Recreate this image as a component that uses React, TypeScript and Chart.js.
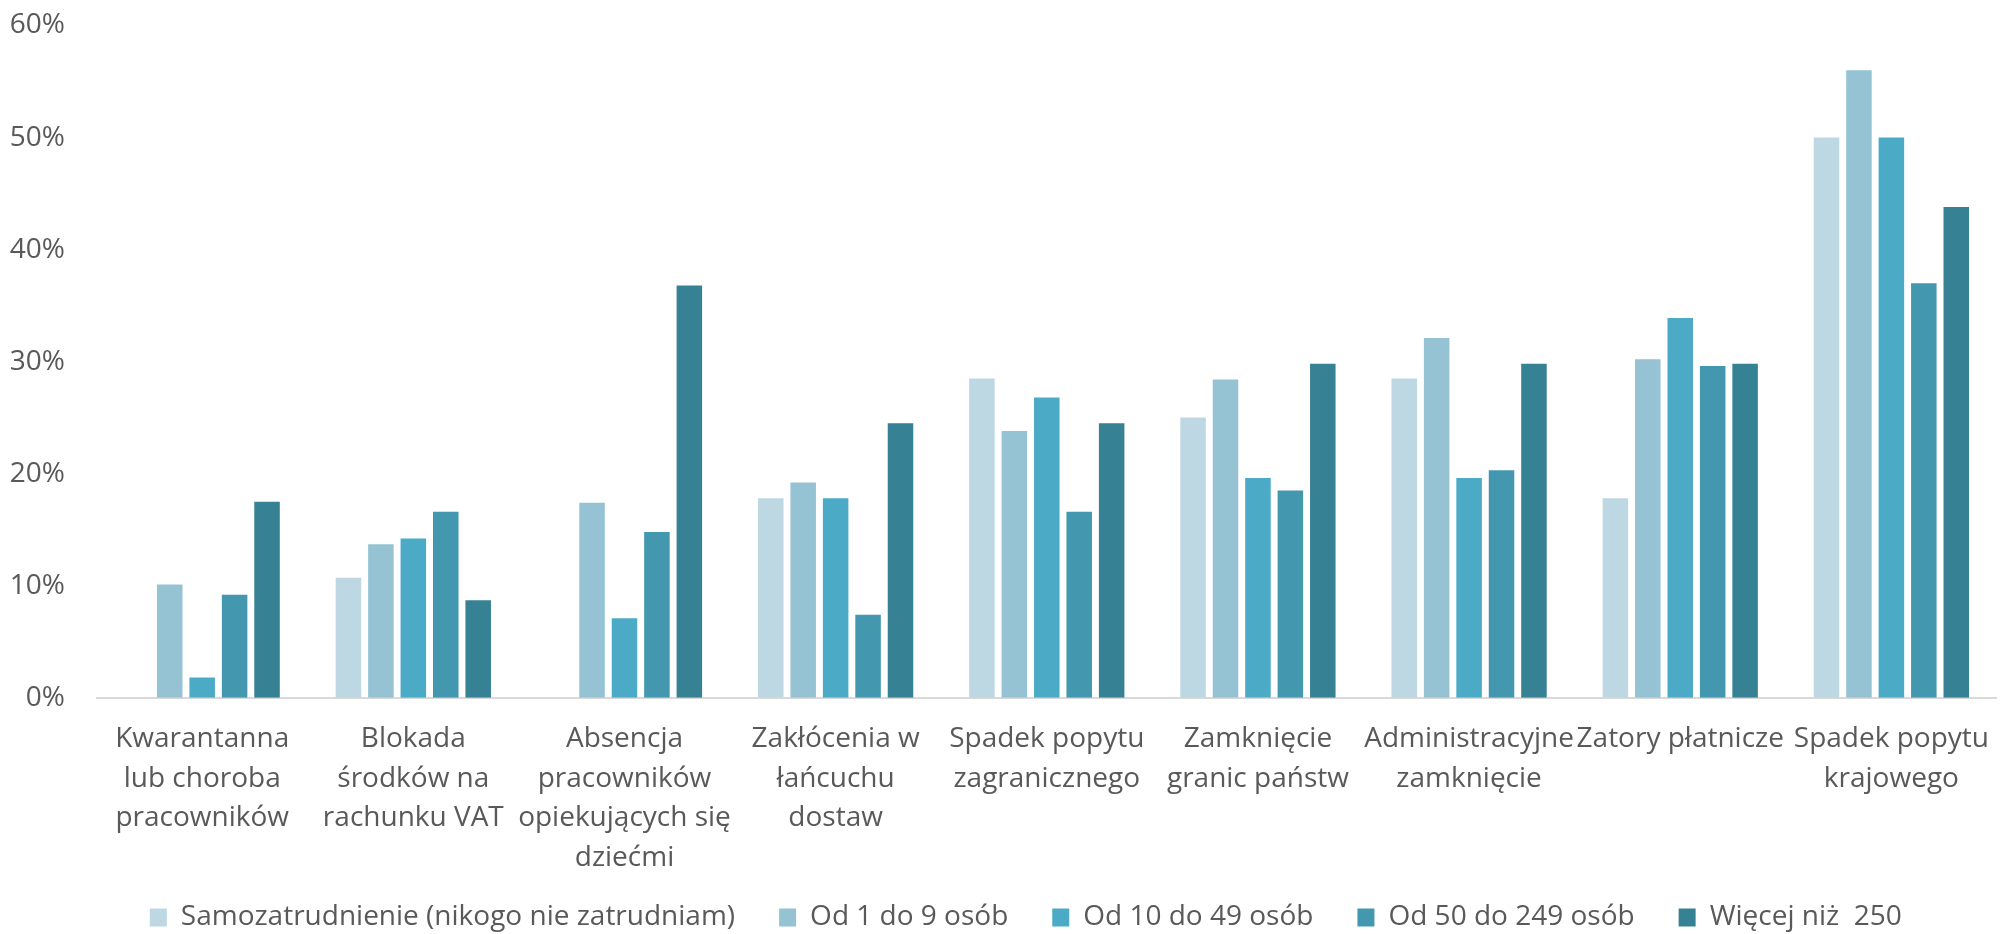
import React, { useEffect, useRef } from "react";
import { Chart, registerables } from "chart.js";

Chart.register(...registerables);

const categories: (string | string[])[] = [
  ["Kwarantanna", "lub choroba", "pracowników"],
  ["Blokada", "środków na", "rachunku VAT"],
  ["Absencja", "pracowników", "opiekujących się", "dziećmi"],
  ["Zakłócenia w", "łańcuchu", "dostaw"],
  ["Spadek popytu", "zagranicznego"],
  ["Zamknięcie", "granic państw"],
  ["Administracyjne", "zamknięcie"],
  "Zatory płatnicze",
  ["Spadek popytu", "krajowego"],
];

const seriesNames = [
  "Samozatrudnienie (nikogo nie zatrudniam)",
  "Od 1 do 9 osób",
  "Od 10 do 49 osób",
  "Od 50 do 249 osób",
  "Więcej niż  250",
];

const selfEmployed = [0, 10.7, 0, 17.8, 28.5, 25.0, 28.5, 17.8, 50.0];
const from1to9 = [10.1, 13.7, 17.4, 19.2, 23.8, 28.4, 32.1, 30.2, 56.0];
const from10to49 = [1.8, 14.2, 7.1, 17.8, 26.8, 19.6, 19.6, 33.9, 50.0];
const from50to249 = [9.2, 16.6, 14.8, 7.4, 16.6, 18.5, 20.3, 29.6, 37.0];
const over250 = [17.5, 8.7, 36.8, 24.5, 24.5, 29.8, 29.8, 29.8, 43.8];

const seriesColors = ["#BDD7E3", "#95C3D4", "#4BABC6", "#4398B0", "#378195"];

const yTicks = [0, 10, 20, 30, 40, 50, 60];

const W = 2011;
const H = 934;

// legend placement tweaks (box height reserved in layout, then shift)
const LEGEND_BOX_H = 54;
const LEGEND_DX = 20.5;
const LEGEND_DY = -20.5;

const legendPlacement = {
  id: "legendPlacement",
  beforeLayout(chart: any) {
    const lg = chart.legend;
    if (lg && !lg.__patched) {
      const orig = lg.fit.bind(lg);
      lg.fit = function () {
        orig();
        this.height = LEGEND_BOX_H;
      };
      lg.__patched = true;
    }
  },
  afterLayout(chart: any) {
    const lg = chart.legend;
    if (lg) {
      lg.left += LEGEND_DX;
      lg.right += LEGEND_DX;
      lg.top += LEGEND_DY;
    }
  },
};

export default function App() {
  const ref = useRef<HTMLCanvasElement | null>(null);

  useEffect(() => {
    const canvas = ref.current;
    if (!canvas) return;
    const values = [selfEmployed, from1to9, from10to49, from50to249, over250];
    const chart = new Chart(canvas, {
      type: "bar",
      data: {
        labels: categories,
        datasets: values.map((d, i) => ({
          label: seriesNames[i],
          data: d,
          backgroundColor: seriesColors[i],
          borderWidth: 0,
          categoryPercentage: 0.768,
          barPercentage: 0.787,
        })),
      },
      plugins: [legendPlacement],
      options: {
        animation: false,
        responsive: false,
        devicePixelRatio: 1,
        layout: { padding: { left: 0, right: 0.5, top: 25.5, bottom: 0 } },
        font: { family: "'Open Sans'", size: 28 },
        plugins: {
          legend: {
            position: "bottom",
            labels: {
              boxWidth: 17,
              boxHeight: 18,
              padding: 44,
              color: "#595959",
              font: { family: "'Open Sans'", size: 28 },
            },
          },
          tooltip: { enabled: false },
        },
        scales: {
          x: {
            grid: { display: false, drawTicks: false },
            border: { display: true, color: "#D9D9D9", width: 2 },
            ticks: {
              color: "#595959",
              padding: 22,
              maxRotation: 0,
              autoSkip: false,
              font: { family: "'Open Sans'", size: 28, lineHeight: 1.41 },
            },
            afterFit: (scale: any) => {
              scale.height = 182.3;
            },
          },
          y: {
            min: 0,
            max: 60,
            afterBuildTicks: (scale: any) => {
              scale.ticks = yTicks.map((v) => ({ value: v }));
            },
            grid: { display: false, drawTicks: false },
            border: { display: false },
            ticks: {
              color: "#595959",
              padding: 31.6,
              font: { family: "'Open Sans'", size: 28 },
              callback: (v: any) => v + "%",
            },
            afterFit: (scale: any) => {
              scale.width = 96.6;
              scale.paddingTop = 0;
              scale.paddingBottom = 0;
            },
          },
        },
      },
    });
    return () => chart.destroy();
  }, []);

  return (
    <div
      style={{
        position: "fixed",
        left: 0,
        top: 0,
        width: 2005,
        height: H,
        overflow: "hidden",
        background: "#fff",
      }}
    >
      <canvas ref={ref} width={W} height={H} style={{ width: W, height: H, display: "block" }} />
    </div>
  );
}
